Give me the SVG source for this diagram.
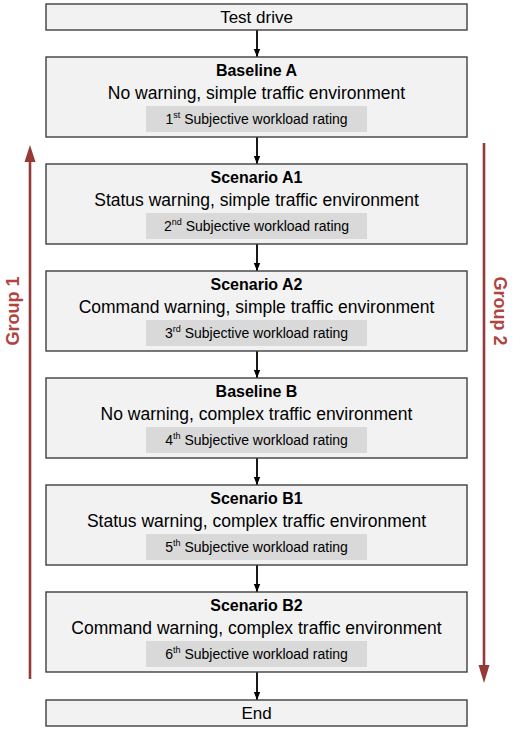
<svg xmlns="http://www.w3.org/2000/svg" width="520" height="730" viewBox="0 0 520 730">
<style>
.box{fill:#f2f2f2;stroke:#3f3f3f;stroke-width:1.4}
.rate{fill:#d9d9d9}
text{font-family:"Liberation Sans",Arial,sans-serif;fill:#000;text-anchor:middle}
.t{font-size:16px;font-weight:bold}
.d{font-size:17.5px}
.e{font-size:17px}
.r{font-size:14px}
.g{font-size:18px;font-weight:bold;fill:#b0443f}
.c{stroke:#000;stroke-width:1.8;fill:none}
.red{stroke:#953a36;stroke-width:2.6;fill:none}
</style>
<defs>
<marker id="ah" markerUnits="userSpaceOnUse" markerWidth="8" markerHeight="8" refX="8" refY="4" orient="auto">
<path d="M0,0.8 L8,4 L0,7.2 z" fill="#000"/>
</marker>
</defs>
<rect width="520" height="730" fill="#fff"/>

<g id="connectors">
<line class="c" x1="257" y1="30" x2="257" y2="57" marker-end="url(#ah)"/>
<line class="c" x1="257" y1="137" x2="257" y2="164" marker-end="url(#ah)"/>
<line class="c" x1="257" y1="244" x2="257" y2="271" marker-end="url(#ah)"/>
<line class="c" x1="257" y1="351" x2="257" y2="378" marker-end="url(#ah)"/>
<line class="c" x1="257" y1="458" x2="257" y2="485" marker-end="url(#ah)"/>
<line class="c" x1="257" y1="565" x2="257" y2="592" marker-end="url(#ah)"/>
<line class="c" x1="257" y1="672" x2="257" y2="700" marker-end="url(#ah)"/>
</g>

<g id="start">
<rect class="box" x="46" y="4" width="421" height="26"/>
<text class="e" x="256.5" y="23">Test drive</text>
</g>

<g id="baselineA">
<rect class="box" x="46" y="57" width="421" height="80"/>
<text class="t" x="256.5" y="76">Baseline A</text>
<text class="d" x="256.5" y="99">No warning, simple traffic environment</text>
<rect class="rate" x="146" y="106" width="221" height="26"/>
<text class="r" x="256.5" y="124">1<tspan font-size="9" dy="-6">st</tspan><tspan dy="6"> Subjective workload rating</tspan></text>
</g>

<g id="scenarioA1">
<rect class="box" x="46" y="164" width="421" height="80"/>
<text class="t" x="256.5" y="183">Scenario A1</text>
<text class="d" x="256.5" y="206">Status warning, simple traffic environment</text>
<rect class="rate" x="146" y="213" width="221" height="26"/>
<text class="r" x="256.5" y="231">2<tspan font-size="9" dy="-6">nd</tspan><tspan dy="6"> Subjective workload rating</tspan></text>
</g>

<g id="scenarioA2">
<rect class="box" x="46" y="271" width="421" height="80"/>
<text class="t" x="256.5" y="290">Scenario A2</text>
<text class="d" x="256.5" y="313">Command warning, simple traffic environment</text>
<rect class="rate" x="146" y="320" width="221" height="26"/>
<text class="r" x="256.5" y="338">3<tspan font-size="9" dy="-6">rd</tspan><tspan dy="6"> Subjective workload rating</tspan></text>
</g>

<g id="baselineB">
<rect class="box" x="46" y="378" width="421" height="80"/>
<text class="t" x="256.5" y="397">Baseline B</text>
<text class="d" x="256.5" y="420">No warning, complex traffic environment</text>
<rect class="rate" x="146" y="427" width="221" height="26"/>
<text class="r" x="256.5" y="445">4<tspan font-size="9" dy="-6">th</tspan><tspan dy="6"> Subjective workload rating</tspan></text>
</g>

<g id="scenarioB1">
<rect class="box" x="46" y="485" width="421" height="80"/>
<text class="t" x="256.5" y="504">Scenario B1</text>
<text class="d" x="256.5" y="527">Status warning, complex traffic environment</text>
<rect class="rate" x="146" y="534" width="221" height="26"/>
<text class="r" x="256.5" y="552">5<tspan font-size="9" dy="-6">th</tspan><tspan dy="6"> Subjective workload rating</tspan></text>
</g>

<g id="scenarioB2">
<rect class="box" x="46" y="592" width="421" height="80"/>
<text class="t" x="256.5" y="611">Scenario B2</text>
<text class="d" x="256.5" y="634">Command warning, complex traffic environment</text>
<rect class="rate" x="146" y="641" width="221" height="26"/>
<text class="r" x="256.5" y="659">6<tspan font-size="9" dy="-6">th</tspan><tspan dy="6"> Subjective workload rating</tspan></text>
</g>

<g id="end">
<rect class="box" x="46" y="700" width="421" height="26"/>
<text class="e" x="256.5" y="719">End</text>
</g>

<g id="group1">
<line class="red" x1="30" y1="679" x2="30" y2="160"/>
<polygon points="30,145 24.5,162 35.5,162" fill="#953a36"/>
<text class="g" transform="translate(18.5,311) rotate(-90)">Group 1</text>
</g>

<g id="group2">
<line class="red" x1="484" y1="143" x2="484" y2="666"/>
<polygon points="484,683 478.5,665 489.5,665" fill="#953a36"/>
<text class="g" transform="translate(493.5,311) rotate(90)">Group 2</text>
</g>
</svg>
